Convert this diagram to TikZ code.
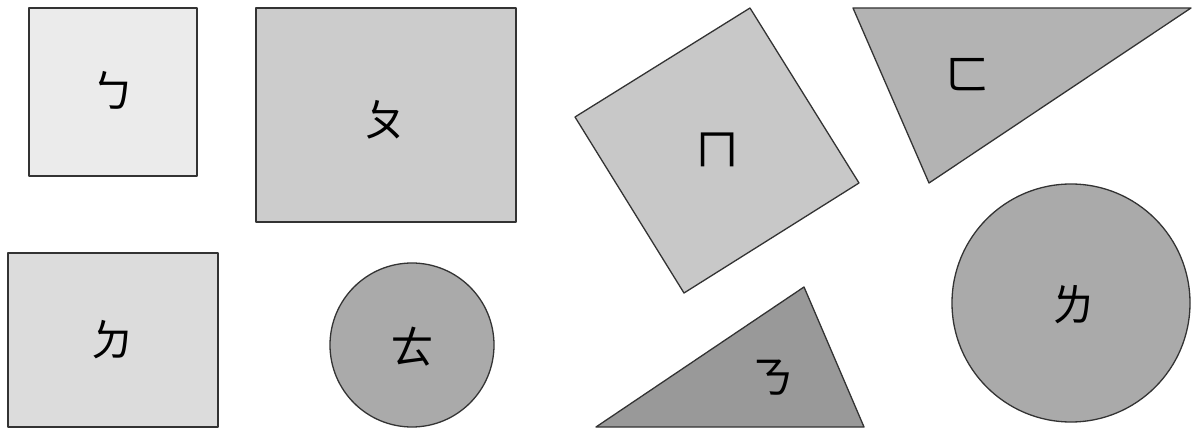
\documentclass[tikz,border=0pt]{standalone}
\usepackage{fontspec}
\newfontfamily\cjk{Noto Sans CJK TC}
\definecolor{edge}{HTML}{333333}
\begin{document}
\begin{tikzpicture}[x=1pt,y=-1pt,
    tile/.style={draw=edge, line width=1.3pt, line join=round},
    glyph/.style={font=\cjk\fontsize{44}{44}\selectfont, inner sep=0pt}]
  \useasboundingbox (0,0) rectangle (1192,430);

  % 左上方块
  \draw[tile, fill={rgb,255:red,235;green,235;blue,235}] (29,8) rectangle (197,176);
  \node[glyph] (bo) at (113,90) {ㄅ};

  % 中上长方
  \draw[tile, fill={rgb,255:red,204;green,204;blue,204}] (256,8) rectangle (516,222);
  \node[glyph] (po) at (385,120) {ㄆ};

  % 斜放方块
  \draw[tile, fill={rgb,255:red,200;green,200;blue,200}]
    (575,117) -- (750,8) -- (859,183) -- (684,293) -- cycle;
  \node[glyph] (mo) at (717,150) {ㄇ};

  % 右上三角
  \draw[tile, fill={rgb,255:red,179;green,179;blue,179}]
    (853,8) -- (1191,8) -- (929,183) -- cycle;
  \node[glyph] (fo) at (967,75) {ㄈ};

  % 左下长方
  \draw[tile, fill={rgb,255:red,220;green,220;blue,220}] (8,253) rectangle (218,427);
  \node[glyph] (de) at (112,340) {ㄉ};

  % 小圆
  \draw[tile, fill={rgb,255:red,170;green,170;blue,170}] (412,345) circle (82);
  \node[glyph] (te) at (412,347) {ㄊ};

  % 下方三角
  \draw[tile, fill={rgb,255:red,153;green,153;blue,153}]
    (596,427) -- (804,287) -- (864,427) -- cycle;
  \node[glyph] (ne) at (772,378) {ㄋ};

  % 大圆
  \draw[tile, fill={rgb,255:red,170;green,170;blue,170}] (1071,303) circle (119);
  \node[glyph] (le) at (1073,305) {ㄌ};

\end{tikzpicture}
\end{document}
